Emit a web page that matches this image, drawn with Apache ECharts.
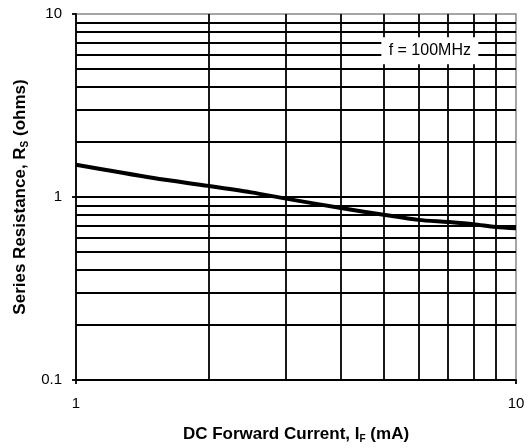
<!DOCTYPE html>
<html>
<head>
<meta charset="utf-8">
<script src="https://cdn.jsdelivr.net/npm/echarts@6/dist/echarts.min.js"></script>
<style>
html,body{margin:0;padding:0;background:#fff;}
#c{width:530px;height:448px;}
</style>
</head>
<body>
<div id="c"></div>
<script>
// Data
var currentMA = [1, 1.5, 2, 2.5, 3, 4, 5, 6, 7, 8, 9, 10];
var resistanceOhms = [1.50, 1.27, 1.15, 1.06, 0.98, 0.87, 0.80, 0.75, 0.73, 0.71, 0.685, 0.675];
var xGridValues = [2, 3, 4, 5, 6, 7, 8, 9];
var yGridValues = [0.2, 0.3, 0.4, 0.5, 0.6, 0.7, 0.8, 0.9, 1, 2, 3, 4, 5, 6, 7, 8, 9];
var annotationText = 'f = 100MHz';
var annotationAt = [6.37, 6.29];

var FONT = '"Liberation Sans", Arial, sans-serif';
var chart = echarts.init(document.getElementById('c'));

var curve = currentMA.map(function (x, i) { return [x, resistanceOhms[i]]; });
var gridMarks = yGridValues.map(function (v) { return { yAxis: v }; })
  .concat(xGridValues.map(function (v) { return { xAxis: v }; }));

chart.setOption({
  animation: false,
  backgroundColor: '#fff',
  grid: {
    left: 76, right: 14, top: 14, bottom: 68,
    outerBoundsMode: 'none', containLabel: false,
    show: true, borderColor: '#888', borderWidth: 1.5, backgroundColor: '#fff'
  },
  xAxis: {
    type: 'log', logBase: 10, min: 1, max: 10,
    name: 'DC Forward Current, I{s|F} (mA)',
    nameLocation: 'middle', nameGap: 45,
    nameTextStyle: {
      fontFamily: FONT, fontSize: 17, fontWeight: 'bold', color: '#000',
      rich: { s: { fontFamily: FONT, fontSize: 10, fontWeight: 'bold', color: '#000', padding: [9, 0, 0, 0] } }
    },
    axisLine: { show: true, lineStyle: { color: '#000', width: 1.8 } },
    axisTick: { show: true, length: 4, lineStyle: { color: '#000', width: 1.8 } },
    axisLabel: { fontFamily: FONT, fontSize: 15, color: '#000', margin: 16 },
    splitLine: { show: false },
    minorTick: { show: false }, minorSplitLine: { show: false }
  },
  yAxis: {
    type: 'log', logBase: 10, min: 0.1, max: 10,
    name: 'Series Resistance, R{s|S} (ohms)',
    nameLocation: 'middle', nameGap: 46,
    nameTextStyle: {
      fontFamily: FONT, fontSize: 17, fontWeight: 'bold', color: '#000',
      rich: { s: { fontFamily: FONT, fontSize: 10, fontWeight: 'bold', color: '#000', padding: [9, 0, 0, 0] } }
    },
    axisLine: { show: true, lineStyle: { color: '#000', width: 1.8 } },
    axisTick: { show: true, length: 4, lineStyle: { color: '#000', width: 1.8 } },
    axisLabel: { fontFamily: FONT, fontSize: 15, color: '#000', margin: 14,
      formatter: function (v) { return String(Math.round(v * 10) / 10); } },
    splitLine: { show: false },
    minorTick: { show: false }, minorSplitLine: { show: false }
  },
  series: [
    {
      type: 'line', data: [], z: 1, silent: true,
      markLine: {
        silent: true, symbol: ['none', 'none'], animation: false,
        label: { show: false },
        lineStyle: { color: '#000', width: 1.8, type: 'solid' },
        data: gridMarks
      }
    },
    {
      type: 'line', data: curve, z: 5, smooth: 0.3, showSymbol: false, symbol: 'none',
      lineStyle: { color: '#000', width: 4 },
      markPoint: {
        silent: true, animation: false,
        symbol: 'rect', symbolSize: [97, 27],
        itemStyle: { color: '#fff' },
        label: { show: true, position: 'inside', color: '#000', fontFamily: FONT, fontSize: 16,
          formatter: annotationText },
        data: [{ coord: annotationAt }]
      }
    }
  ]
});
</script>
</body>
</html>
